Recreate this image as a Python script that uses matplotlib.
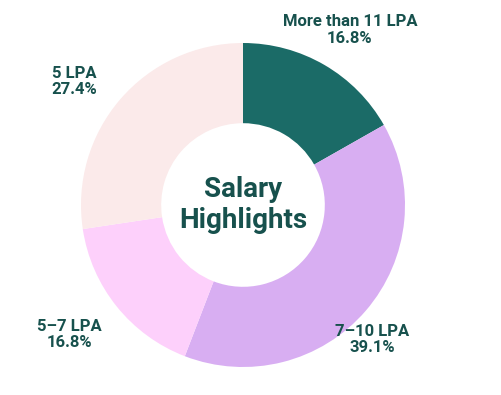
import matplotlib.pyplot as plt

categories = ["More than 11 LPA", "7–10 LPA", "5–7 LPA", "5 LPA"]
shares = [16.8, 39.1, 16.8, 27.4]
colors = ["#1b6b67", "#d8aef2", "#fdd0fb", "#fbeaea"]
label_pos = [(0.66, 1.08), (0.80, -0.83), (-1.07, -0.80), (-1.04, 0.76)]

text_color = "#17514d"
plt.rcParams['font.family'] = ['Roboto', 'DejaVu Sans']

fig = plt.figure(figsize=(5.01, 3.95), dpi=100)
W, H = 501, 395
cx, cy, r = 243, 205, 162
ax = fig.add_axes([(cx - r) / W, (H - cy - r) / H, 2 * r / W, 2 * r / H])

ax.pie(shares, colors=colors, startangle=90, counterclock=False, radius=1,
       wedgeprops=dict(width=0.495, linewidth=0))
ax.set_xlim(-1, 1)
ax.set_ylim(-1, 1)
ax.set_aspect('equal')
ax.axis('off')

for cat, val, (x, y) in zip(categories, shares, label_pos):
    ax.text(x, y, f"{cat}\n{val}%", ha='center', va='center', fontsize=12,
            fontweight='bold', color=text_color, linespacing=1.1, clip_on=False)

ax.text(0, 0, "Salary\nHighlights", ha='center', va='center', fontsize=20,
        fontweight='bold', color=text_color, linespacing=1.2)

fig.savefig("out.png", dpi=100)
